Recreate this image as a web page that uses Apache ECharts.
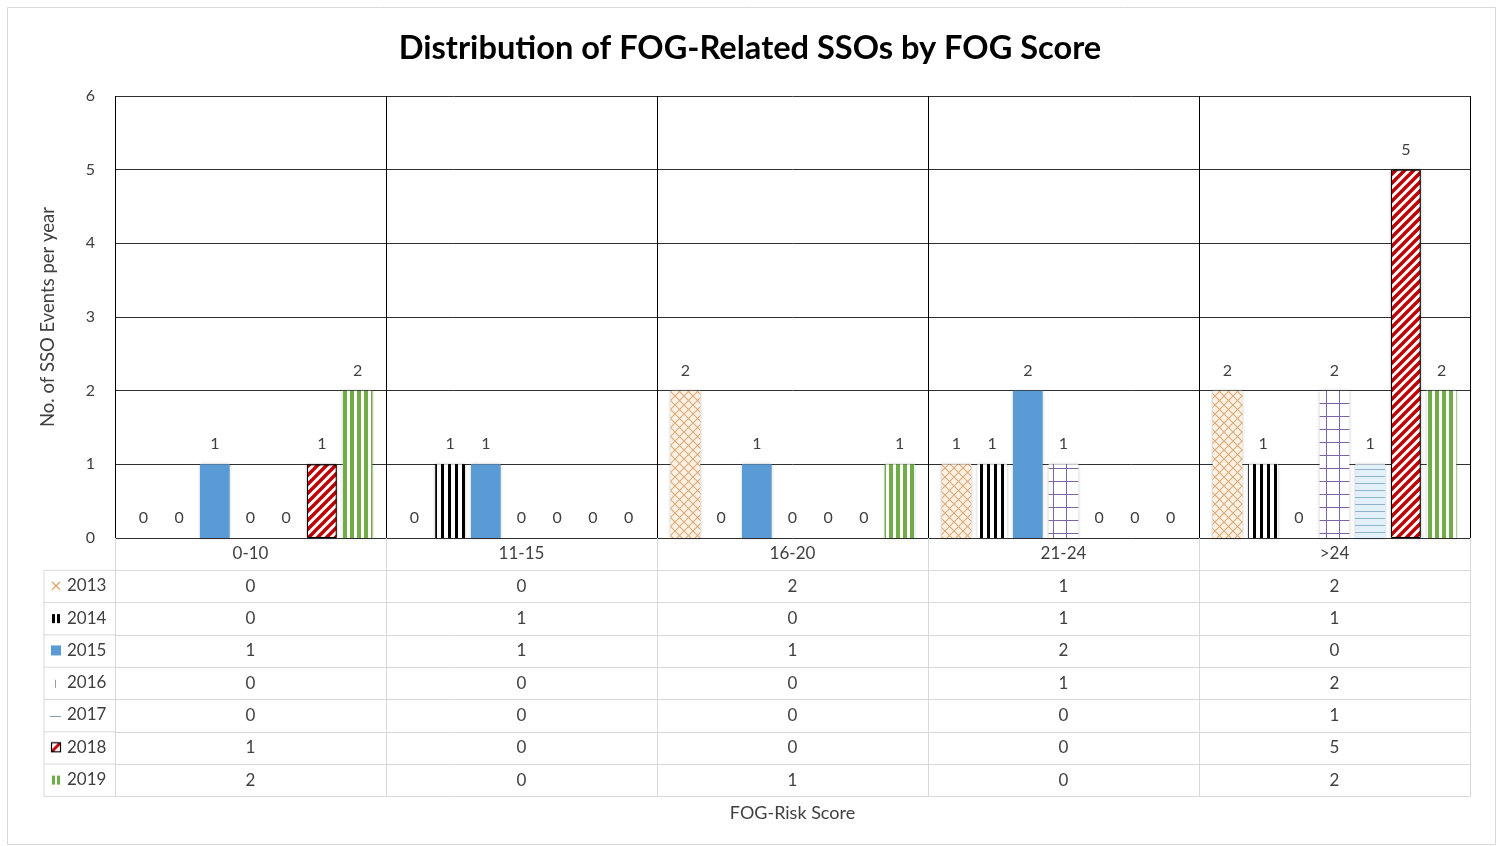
<!DOCTYPE html>
<html>
<head>
<meta charset="utf-8">
<script src="https://cdn.jsdelivr.net/npm/echarts@6/dist/echarts.min.js"></script>
<style>
  html, body { margin: 0; padding: 0; background: #fff; }
  #chart { width: 1500px; height: 846px; }
</style>
</head>
<body>
<div id="chart"></div>
<script>
const categories = ["0-10", "11-15", "16-20", "21-24", ">24"];
const years = ["2013", "2014", "2015", "2016", "2017", "2018", "2019"];
const y2013 = [0, 0, 2, 1, 2];
const y2014 = [0, 1, 0, 1, 1];
const y2015 = [1, 1, 1, 2, 0];
const y2016 = [0, 0, 0, 1, 2];
const y2017 = [0, 0, 0, 0, 1];
const y2018 = [1, 0, 0, 0, 5];
const y2019 = [2, 0, 1, 0, 2];
const yTicks = [0, 1, 2, 3, 4, 5, 6];
const seriesValues = [y2013, y2014, y2015, y2016, y2017, y2018, y2019];

const ROW = 32.3;
const GRID = { left: 115, right: 30, top: 96, bottom: 308 };
const base = 846 - GRID.bottom;
const FONT = "Lato";
const TXT = "#404040";
const TABLE_LINE = "#d9d9d9";
const FS = 17;

// small canvas helper for the hatch fills and legend keys
function makeCanvas(w, h, draw) {
  const c = document.createElement("canvas");
  c.width = w;
  c.height = h;
  draw(c.getContext("2d"), w, h);
  return c;
}

const patterns = [
  // 2013 diamond lattice
  makeCanvas(9, 9, (ctx, w, h) => {
    ctx.fillStyle = "#fdf1e3";
    ctx.fillRect(0, 0, w, h);
    ctx.strokeStyle = "#d8aa7c";
    ctx.lineWidth = 1.1;
    ctx.beginPath();
    ctx.moveTo(-1, -1); ctx.lineTo(w + 1, h + 1);
    ctx.moveTo(w + 1, -1); ctx.lineTo(-1, h + 1);
    ctx.stroke();
  }),
  // 2014 wide black verticals
  makeCanvas(7, 1, (ctx, w, h) => {
    ctx.fillStyle = "#fff"; ctx.fillRect(0, 0, w, h);
    ctx.fillStyle = "#000"; ctx.fillRect(0, 0, 3, h);
  }),
  "#5b9bd5",
  // 2016 purple grid
  makeCanvas(13, 13, (ctx, w, h) => {
    ctx.fillStyle = "#fff"; ctx.fillRect(0, 0, w, h);
    ctx.fillStyle = "#8064a2";
    ctx.fillRect(0, 0, 1, h);
    ctx.fillRect(0, 0, w, 1);
  }),
  // 2017 horizontal lines
  makeCanvas(1, 7, (ctx, w, h) => {
    ctx.fillStyle = "#e2f0f9"; ctx.fillRect(0, 0, w, h);
    ctx.fillStyle = "#8fb2c7"; ctx.fillRect(0, 0, w, 1);
  }),
  // 2018 red diagonals
  makeCanvas(9, 9, (ctx, w, h) => {
    ctx.fillStyle = "#fff"; ctx.fillRect(0, 0, w, h);
    ctx.strokeStyle = "#c00000";
    ctx.lineWidth = 3.4;
    ctx.beginPath();
    ctx.moveTo(-1, h + 1); ctx.lineTo(w + 1, -1);
    ctx.moveTo(-w / 2 - 1, h / 2 + 1); ctx.lineTo(w / 2 + 1, -h / 2 - 1);
    ctx.moveTo(w / 2 - 1, h * 1.5 + 1); ctx.lineTo(w * 1.5 + 1, h / 2 - 1);
    ctx.stroke();
  }),
  // 2019 green verticals
  makeCanvas(7, 1, (ctx, w, h) => {
    ctx.fillStyle = "#fff"; ctx.fillRect(0, 0, w, h);
    ctx.fillStyle = "#70ad47"; ctx.fillRect(0, 0, 4, h);
  })
];

const legendKeys = [
  makeCanvas(12, 12, ctx => {
    ctx.strokeStyle = "#d9a06a"; ctx.lineWidth = 1.2;
    ctx.beginPath();
    ctx.moveTo(2, 2); ctx.lineTo(10, 10);
    ctx.moveTo(10, 2); ctx.lineTo(2, 10);
    ctx.stroke();
  }),
  makeCanvas(12, 12, ctx => {
    ctx.fillStyle = "#000";
    ctx.fillRect(2, 2, 3, 9); ctx.fillRect(7, 2, 3, 9);
  }),
  makeCanvas(12, 12, ctx => {
    ctx.fillStyle = "#5b9bd5"; ctx.fillRect(1, 1, 10, 10);
  }),
  makeCanvas(12, 12, ctx => {
    ctx.fillStyle = "#9a9a9a"; ctx.fillRect(5, 3, 1, 8);
  }),
  makeCanvas(12, 12, ctx => {
    ctx.fillStyle = "#8c9fb0"; ctx.fillRect(0, 7, 11, 1);
  }),
  makeCanvas(12, 12, ctx => {
    ctx.fillStyle = "#fff"; ctx.fillRect(1, 1, 10, 10);
    ctx.save();
    ctx.beginPath(); ctx.rect(1, 1, 10, 10); ctx.clip();
    ctx.strokeStyle = "#c00000"; ctx.lineWidth = 3;
    ctx.beginPath(); ctx.moveTo(0, 12); ctx.lineTo(12, 0); ctx.stroke();
    ctx.restore();
    ctx.strokeStyle = "#000"; ctx.lineWidth = 1.2;
    ctx.strokeRect(1.5, 1.5, 9, 9);
  }),
  makeCanvas(12, 12, ctx => {
    ctx.fillStyle = "#70ad47";
    ctx.fillRect(2, 2, 3, 9); ctx.fillRect(7, 2, 3, 9);
  })
];

const chart = echarts.init(document.getElementById("chart"));

let xAxisList = [
  {
    type: "category",
    data: categories,
    position: "bottom",
    axisLine: { show: false },
    axisTick: { show: true, length: ROW, lineStyle: { color: TABLE_LINE } },
    axisLabel: { interval: 0, margin: 16, verticalAlign: "middle", fontSize: FS, color: TXT },
    splitLine: { show: true, lineStyle: { color: "#000" } }
  }
];
years.forEach((y, k) => {
  xAxisList.push({
    type: "category",
    data: categories,
    position: "bottom",
    offset: ROW * (k + 1),
    axisLine: { show: true, lineStyle: { color: TABLE_LINE } },
    axisTick: { show: true, length: ROW, lineStyle: { color: TABLE_LINE } },
    axisLabel: {
      interval: 0,
      margin: 16,
      verticalAlign: "middle",
      fontSize: FS,
      color: TXT,
      formatter: (v, i) => String(seriesValues[k][i])
    },
    splitLine: { show: false }
  });
});
xAxisList.push({
  type: "category",
  data: categories,
  position: "bottom",
  offset: ROW * 8,
  axisLine: { show: true, lineStyle: { color: TABLE_LINE } },
  axisTick: { show: false },
  axisLabel: { show: false },
  splitLine: { show: false },
  name: "FOG-Risk Score",
  nameLocation: "middle",
  nameGap: 8,
  nameTextStyle: { fontSize: 18, color: TXT }
});

// legend column of the data table
let tableLines = [
  { type: "line", shape: { x1: 44, y1: base + ROW, x2: 44, y2: base + ROW * 8 }, style: { stroke: TABLE_LINE } }
];
for (let k = 1; k <= 8; k++) {
  tableLines.push({
    type: "line",
    shape: { x1: 44, y1: base + ROW * k, x2: GRID.left, y2: base + ROW * k },
    style: { stroke: TABLE_LINE }
  });
}

let options = {
  animation: false,
  textStyle: { fontFamily: FONT },
  title: {
    text: "Distribution of FOG-Related SSOs by FOG Score",
    left: "center",
    top: 27,
    textStyle: { fontSize: 32.6, fontWeight: "bold", color: "#000", fontFamily: FONT }
  },
  legend: {
    orient: "vertical",
    left: 45,
    top: base + ROW + 2,
    itemWidth: 12,
    itemHeight: 12,
    itemGap: ROW - FS,
    textStyle: { fontSize: FS, color: TXT, lineHeight: FS },
    data: years.map((y, i) => ({ name: y, icon: "image://" + legendKeys[i].toDataURL() }))
  },
  grid: GRID,
  xAxis: xAxisList,
  yAxis: {
    type: "value",
    min: 0,
    max: 6,
    interval: 1,
    name: "No. of SSO Events per year",
    nameLocation: "middle",
    nameGap: 57,
    nameTextStyle: { fontSize: 18.5, color: TXT },
    axisLine: { show: false },
    axisTick: { show: false },
    axisLabel: {
      fontSize: 16,
      color: TXT,
      margin: 20,
      formatter: v => (yTicks.includes(v) ? String(v) : "")
    },
    splitLine: { lineStyle: { color: "#303030" } }
  },
  graphic: [
    {
      type: "rect",
      shape: { x: 7.5, y: 7.5, width: 1488, height: 837 },
      style: { fill: "none", stroke: "#d9d9d9" },
      silent: true
    }
  ].concat(tableLines),
  series: years.map((y, i) => ({
    name: y,
    type: "bar",
    xAxisIndex: 0,
    yAxisIndex: 0,
    // zero bars get no border/shadow so nothing shows on the baseline
    data: seriesValues[i].map(v => (v === 0 ? { value: 0, itemStyle: { borderWidth: 0, shadowBlur: 0 } } : v)),
    barGap: "20%",
    barCategoryGap: "10%",
    itemStyle: {
      color: typeof patterns[i] === "string" ? patterns[i] : { image: patterns[i], repeat: "repeat" },
      borderColor: "#000",
      borderWidth: y === "2018" ? 1 : 0,
      shadowColor: "rgba(0,0,0,0.25)",
      shadowBlur: 3
    },
    label: {
      show: true,
      position: "top",
      distance: 12,
      fontSize: 16,
      color: TXT
    }
  }))
};
chart.setOption(options);
</script>
</body>
</html>
